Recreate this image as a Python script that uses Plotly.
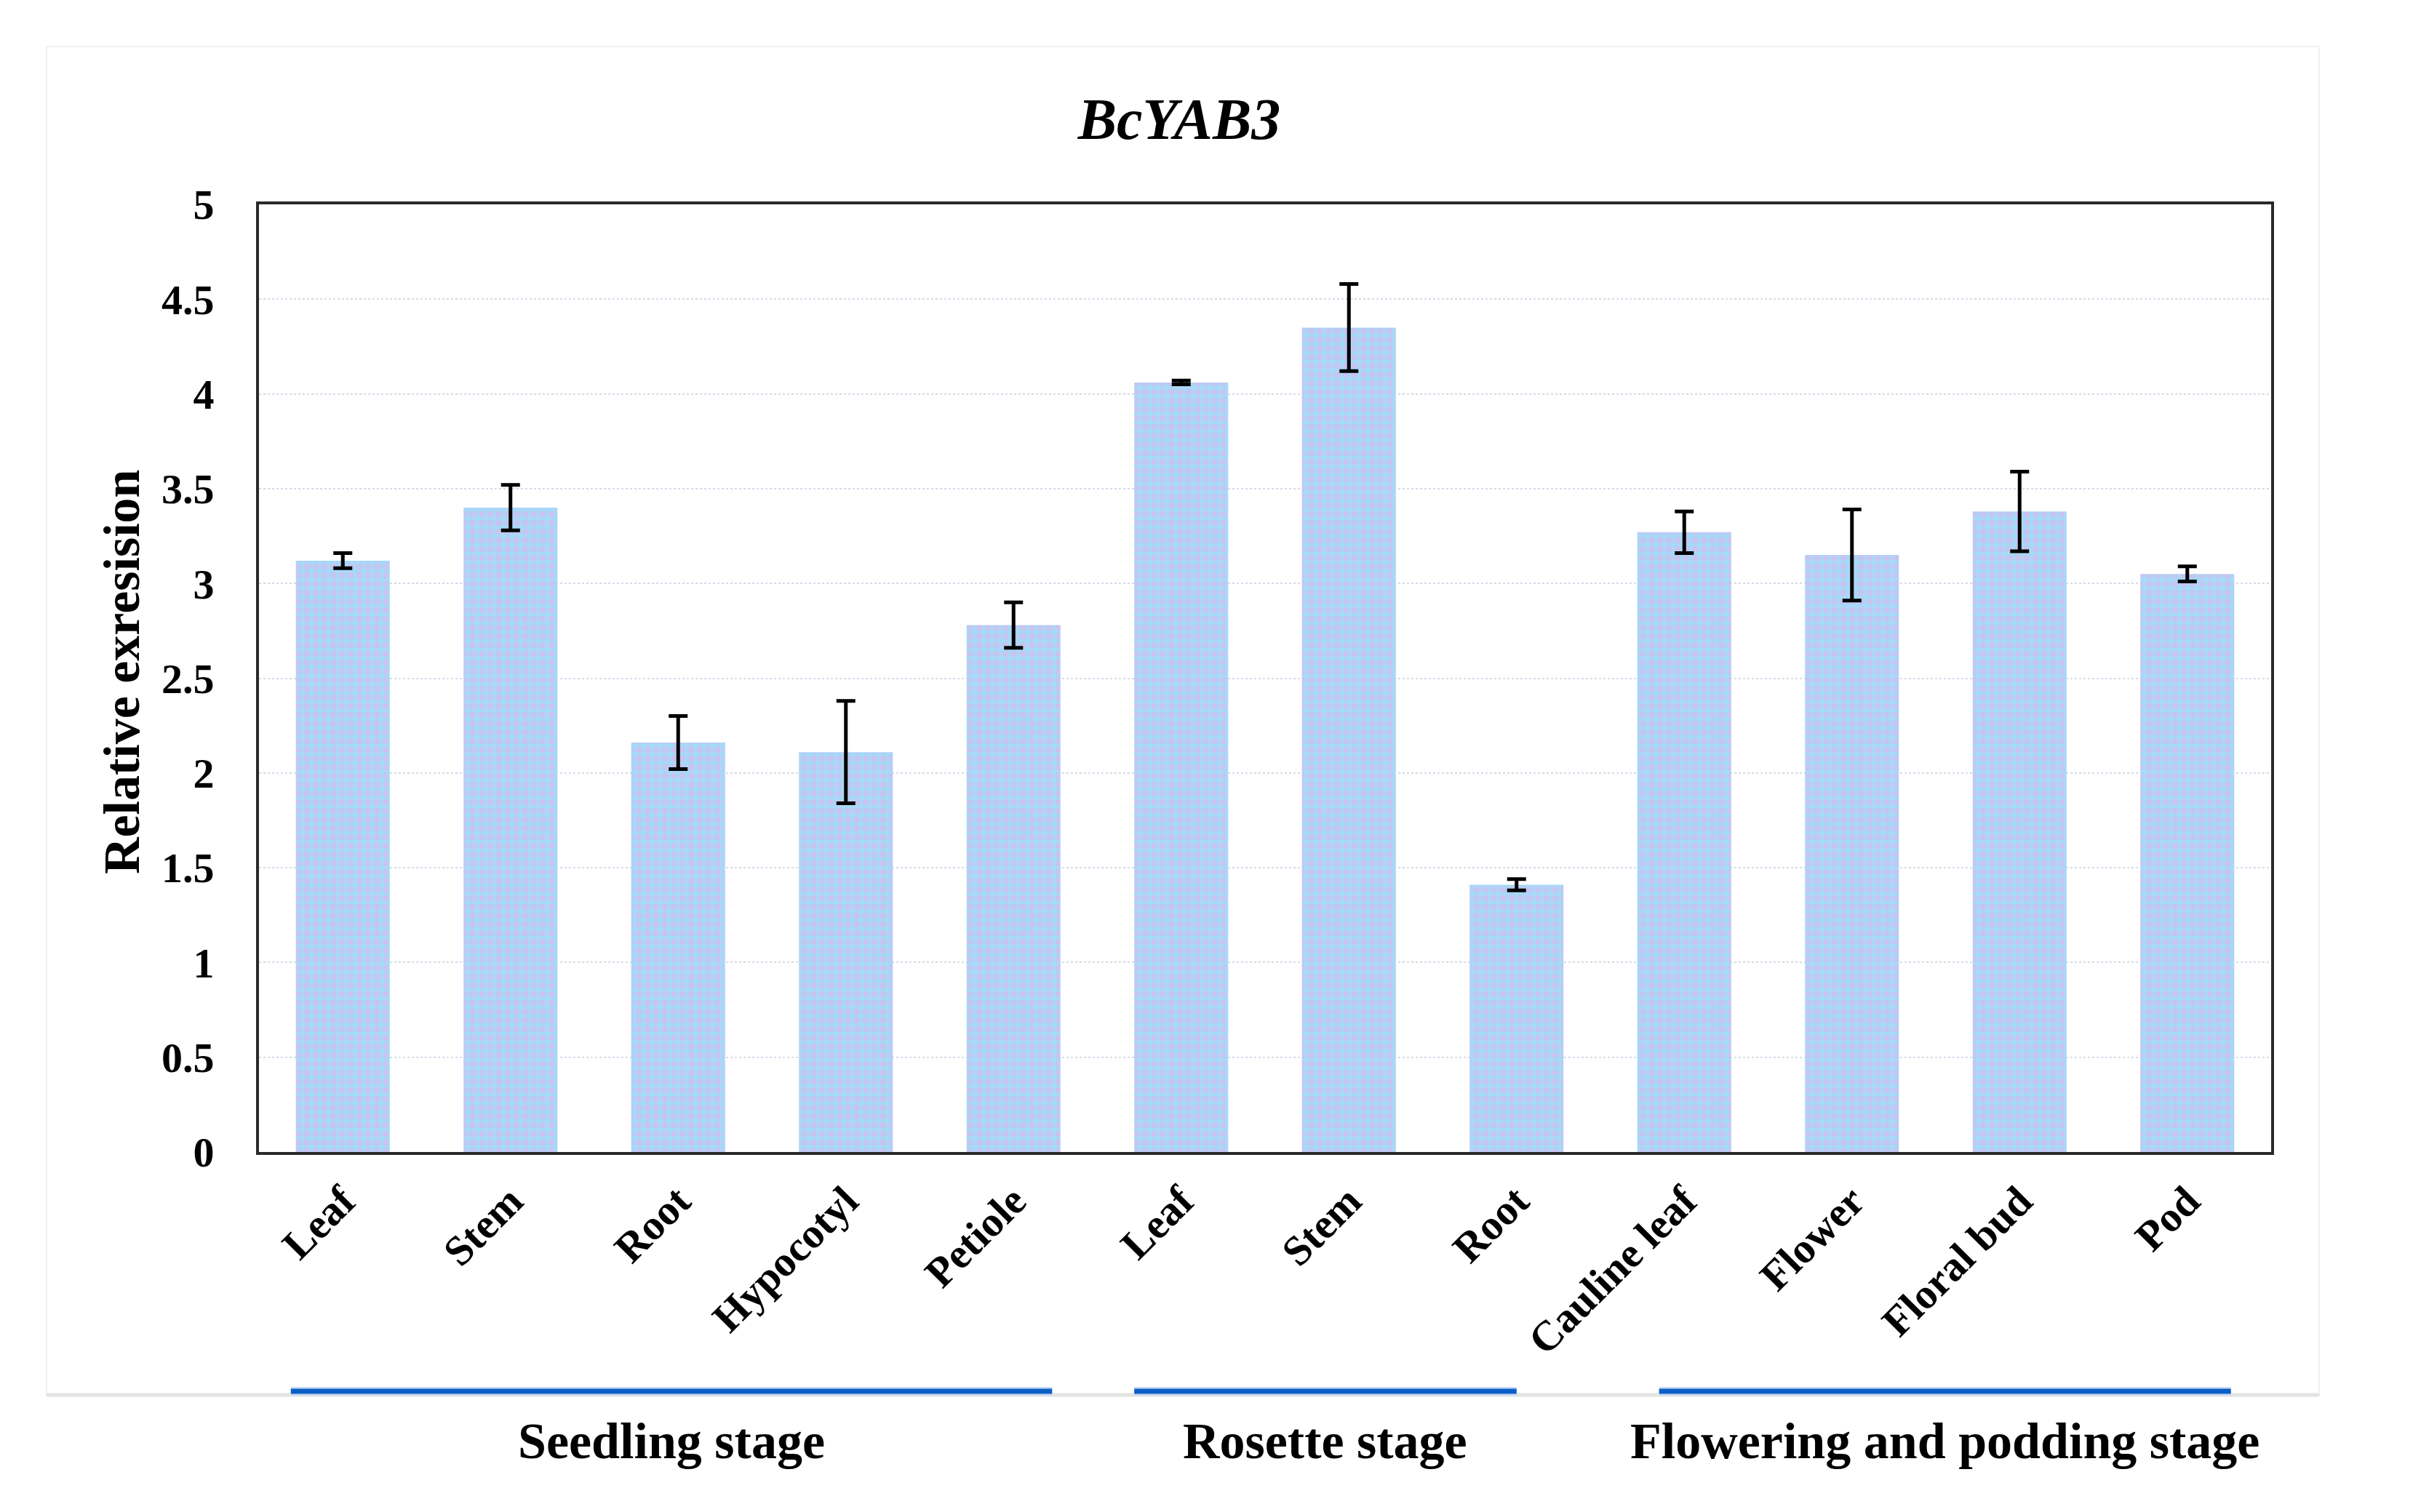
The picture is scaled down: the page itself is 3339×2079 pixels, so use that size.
import plotly.graph_objects as go

# ---------------- data ----------------
tissues = ["Leaf", "Stem", "Root", "Hypocotyl", "Petiole",
           "Leaf", "Stem", "Root",
           "Cauline leaf", "Flower", "Floral bud", "Pod"]
expression = [3.12, 3.40, 2.16, 2.11, 2.78, 4.06, 4.35, 1.41, 3.27, 3.15, 3.38, 3.05]
error = [0.04, 0.12, 0.14, 0.27, 0.12, 0.01, 0.23, 0.03, 0.11, 0.24, 0.21, 0.04]

stage_names = ["Seedling stage", "Rosette stage", "Flowering and podding stage"]
# extent of the blue bracket line under each stage (x-axis units)
stage_line_start = [-0.31, 4.72, 7.85]
stage_line_end = [4.23, 7.00, 11.26]

y_ticks = [0, 0.5, 1, 1.5, 2, 2.5, 3, 3.5, 4, 4.5, 5]
y_tick_text = ["0", "0.5", "1", "1.5", "2", "2.5", "3", "3.5", "4", "4.5", "5"]

positions = list(range(len(tissues)))

FONT = "Liberation Serif, Times New Roman, serif"

fig = go.Figure()
fig.add_trace(go.Bar(
    x=positions,
    y=expression,
    width=0.56,
    marker=dict(
        color="#aed6f6",
        line=dict(width=0),
        pattern=dict(shape=".", fgcolor="#c9c3ef", bgcolor="#a9d7f7",
                     size=12, solidity=0.35, fillmode="replace"),
    ),
    error_y=dict(type="data", array=error, visible=True,
                 color="#000000", thickness=5, width=13),
    showlegend=False,
))

W, H = 3323, 2063
fig.update_layout(
    width=W, height=H,
    margin=dict(l=348, r=209, t=273, b=487, pad=0),
    paper_bgcolor="white",
    plot_bgcolor="white",
    font=dict(family=FONT, size=58, color="#000000"),
    title=dict(text="<b><i>BcYAB3</i></b>", x=0.4854, y=0.9249,
               xref="container", yref="container",
               xanchor="center", yanchor="middle",
               font=dict(family=FONT, size=80, color="#000000")),
    bargap=0.44,
)

fig.update_xaxes(
    range=[-0.5, 11.5],
    tickmode="array", tickvals=positions,
    ticktext=["<b>%s</b>" % t for t in tissues],
    tickangle=-45,
    tickfont=dict(family=FONT, size=58, color="#000000"),
    showgrid=False, zeroline=False,
    showline=True, mirror=True, linecolor="#2a2a2a", linewidth=4,
    ticks="", ticklabelstandoff=6,
)
fig.update_yaxes(
    range=[0, 5],
    tickmode="array", tickvals=y_ticks,
    ticktext=["<b>%s</b>" % t for t in y_tick_text],
    tickfont=dict(family=FONT, size=58, color="#000000"),
    showgrid=True, gridcolor="#d3dce8", gridwidth=2, griddash="dot",
    zeroline=False,
    showline=True, mirror=True, linecolor="#2a2a2a", linewidth=4,
    ticks="", ticklabelstandoff=46,
)

# y-axis title
fig.add_annotation(
    text="<b>Relative exresision</b>", textangle=-90,
    xref="paper", yref="paper", x=-0.0683, y=0.5065,
    xanchor="center", yanchor="middle", showarrow=False,
    font=dict(family=FONT, size=70, color="#000000"),
)

# faint outer frame of the chart image and separator line
fig.add_shape(type="rect", xref="paper", yref="paper",
              x0=-0.1056, x1=1.0239, y0=-0.2563, y1=1.1665,
              line=dict(color="#f0f0f0", width=2), layer="below")
fig.add_shape(type="line", xref="paper", yref="paper",
              x0=-0.1056, x1=1.0239, y0=-0.2563, y1=-0.2563,
              line=dict(color="#e4e4e4", width=5), layer="below")

# stage brackets and labels
for name, xs, xe in zip(stage_names, stage_line_start, stage_line_end):
    fig.add_shape(type="line", xref="x", yref="paper",
                  x0=xs, x1=xe, y0=-0.2525, y1=-0.2525,
                  line=dict(color="#c9daf2", width=12))
    fig.add_shape(type="line", xref="x", yref="paper",
                  x0=xs, x1=xe, y0=-0.2525, y1=-0.2525,
                  line=dict(color="#0b5fc6", width=7))
    fig.add_annotation(
        text="<b>%s</b>" % name,
        xref="x", yref="paper", x=(xs + xe) / 2, y=-0.3054,
        xanchor="center", yanchor="middle", showarrow=False,
        font=dict(family=FONT, size=70, color="#000000"),
    )

fig.write_html("out.html")
